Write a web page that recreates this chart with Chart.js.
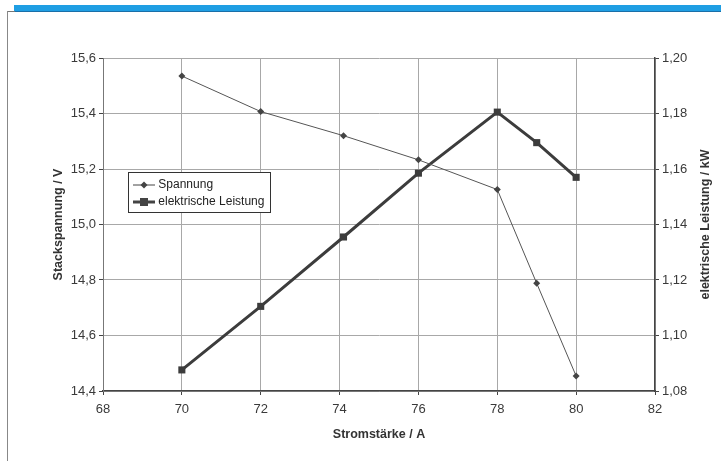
<!DOCTYPE html>
<html>
<head>
<meta charset="utf-8">
<script src="https://cdn.jsdelivr.net/npm/chart.js@4.4.0/dist/chart.umd.min.js"></script>
<style>
  html, body { margin: 0; padding: 0; background: #fff; }
  #wrap { position: relative; width: 721px; height: 461px; overflow: hidden; font-family: "Liberation Sans", Arial, sans-serif; }
  #bar { position: absolute; left: 14px; top: 5px; width: 707px; height: 6px; background: #1f9ee3; border-bottom: 1px solid #1a6fa8; }
  #lineTop { position: absolute; left: 7px; top: 11px; width: 8px; height: 1px; background: #777; }
  #lineLeft { position: absolute; left: 7px; top: 11px; width: 1px; height: 450px; background: #888; }
  canvas { position: absolute; left: 0; top: 0; }
  #legend { position: absolute; left: 128px; top: 172px; width: 143px; height: 41px; border: 1px solid #333; background: #fff; box-sizing: border-box; font-size: 12px; color: #222; }
  .item { position: absolute; left: 4px; height: 16px; line-height: 16px; white-space: nowrap; }
  .item canvas { position: static; vertical-align: middle; }
</style>
</head>
<body>
<div id="wrap">
  <div id="bar"></div>
  <div id="lineTop"></div>
  <div id="lineLeft"></div>
  <canvas id="c" width="721" height="461"></canvas>
  <div id="legend">
    <div class="item" style="top:3px"><canvas id="l1" width="22" height="12"></canvas> <span id="t1"></span></div>
    <div class="item" style="top:20px"><canvas id="l2" width="22" height="12"></canvas> <span id="t2"></span></div>
  </div>
</div>
<script>
const currentA = [70, 72, 74.1, 76, 78, 79, 80];
const voltageV = [15.535, 15.407, 15.32, 15.233, 15.126, 14.788, 14.454];
const powerKW = [1.0876, 1.1105, 1.1355, 1.1585, 1.1805, 1.1695, 1.157];
const seriesNames = ["Spannung", "elektrische Leistung"];
const xTitle = "Stromstärke / A";
const yLeftTitle = "Stackspannung / V";
const yRightTitle = "elektrische Leistung / kW";

const ptsV = currentA.map((x, i) => ({ x: x, y: voltageV[i] }));
const ptsP = currentA.map((x, i) => ({ x: x, y: powerKW[i] }));

const tickFont = { family: "Liberation Sans", size: 13 };
const titleFont = { family: "Liberation Sans", size: 12.5, weight: "bold" };

const rightTitlePlugin = {
  id: "rightTitle",
  afterDraw(chart) {
    const ctx = chart.ctx;
    const a = chart.chartArea;
    ctx.save();
    ctx.translate(706, (a.top + a.bottom) / 2);
    ctx.rotate(-Math.PI / 2);
    ctx.font = "bold 12.5px 'Liberation Sans'";
    ctx.fillStyle = "#333";
    ctx.textAlign = "center";
    ctx.textBaseline = "middle";
    ctx.fillText(yRightTitle, 0, 0);
    ctx.restore();
  }
};

new Chart(document.getElementById("c"), {
  type: "line",
  data: {
    datasets: [
      {
        label: seriesNames[0], data: ptsV, yAxisID: "y",
        borderColor: "#555", backgroundColor: "#444", borderWidth: 1,
        pointStyle: "rectRot", pointRadius: 3.5, pointBorderWidth: 0, tension: 0
      },
      {
        label: seriesNames[1], data: ptsP, yAxisID: "y1",
        borderColor: "#3c3c3c", backgroundColor: "#3c3c3c", borderWidth: 3,
        pointStyle: "rect", pointRadius: 5, pointBorderWidth: 0, tension: 0
      }
    ]
  },
  options: {
    responsive: false, animation: false,
    layout: { padding: { left: 51, right: 8, top: 58, bottom: 19 } },
    plugins: { legend: { display: false }, tooltip: { enabled: false } },
    scales: {
      x: {
        type: "linear", min: 68, max: 82,
        afterFit: s => { s.height = 51; },
        ticks: { stepSize: 2, color: "#3a3a3a", font: tickFont, padding: 7 },
        grid: { color: "#a8a8a8", lineWidth: 1, tickLength: 4, tickColor: "#444" },
        border: { color: "#444", width: 1.5 },
        title: { display: true, text: xTitle, color: "#333", font: titleFont, padding: 0 }
      },
      y: {
        position: "left", min: 14.4, max: 15.6,
        afterFit: s => { s.width = 52; },
        ticks: { stepSize: 0.2, color: "#3a3a3a", font: tickFont, padding: 3,
          callback: v => v.toFixed(1).replace(".", ",") },
        grid: { color: "#a8a8a8", lineWidth: 1, tickLength: 4, tickColor: "#444" },
        border: { color: "#777", width: 1 },
        title: { display: true, text: yLeftTitle, color: "#333", font: titleFont, padding: 0 }
      },
      y1: {
        position: "right", min: 1.08, max: 1.20,
        afterFit: s => { s.width = 58; },
        ticks: { stepSize: 0.02, color: "#3a3a3a", font: tickFont, padding: 3,
          callback: v => v.toFixed(2).replace(".", ",") },
        grid: { drawOnChartArea: false, tickLength: 4, tickColor: "#444" },
        border: { color: "#444", width: 1.5 },
        title: { display: false }
      }
    }
  },
  plugins: [rightTitlePlugin]
});

document.getElementById("t1").textContent = seriesNames[0];
document.getElementById("t2").textContent = seriesNames[1];
function drawSample(id, lw, shape, r) {
  const ctx = document.getElementById(id).getContext("2d");
  ctx.strokeStyle = "#444"; ctx.fillStyle = "#444"; ctx.lineWidth = lw;
  ctx.beginPath(); ctx.moveTo(0, 6); ctx.lineTo(22, 6); ctx.stroke();
  ctx.beginPath();
  if (shape === "diamond") { ctx.moveTo(11, 6 - r); ctx.lineTo(11 + r, 6); ctx.lineTo(11, 6 + r); ctx.lineTo(11 - r, 6); ctx.closePath(); ctx.fill(); }
  else { ctx.fillRect(11 - r, 6 - r, 2 * r, 2 * r); }
}
drawSample("l1", 1, "diamond", 3.5);
drawSample("l2", 3, "rect", 4);
</script>
</body>
</html>
